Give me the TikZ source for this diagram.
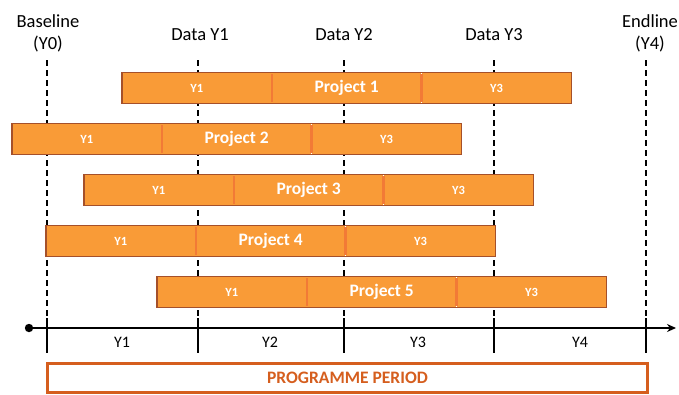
\documentclass[tikz,border=0pt]{standalone}
\usepackage{fontspec}
\setmainfont{Carlito}
\usetikzlibrary{arrows.meta}
\definecolor{barfill}{HTML}{F99B37}
\definecolor{barborder}{HTML}{A5502A}
\definecolor{divcol}{HTML}{F27A36}
\definecolor{progcol}{HTML}{D55E1E}
\tikzset{
  seg/.style={minimum width=149.4pt, minimum height=30pt, inner sep=0pt, fill=barfill, text=white, font=\fontsize{12.5}{14}\selectfont\bfseries},
  segmid/.style={seg, font=\fontsize{17.5}{19}\selectfont\bfseries},
  barline/.style={draw=barborder, line width=1.2pt},
  divline/.style={draw=divcol, line width=2.5pt},
  dashline/.style={line width=2.2pt, dash pattern=on 6pt off 4pt},
  tick/.style={line width=2.2pt},
  toplabel/.style={font=\fontsize{18.5}{22}\selectfont, align=center, inner sep=1pt},
  axislabel/.style={font=\fontsize{16}{18}\selectfont, inner sep=1pt},
}
\begin{document}
\begin{tikzpicture}[x=1pt,y=-1pt]
\useasboundingbox (0,0) rectangle (679,394);
% top labels
\node[toplabel] (lb0) at (48,33) {Baseline\\(Y0)};
\node[toplabel] (lb1) at (200,35) {Data Y1};
\node[toplabel] (lb2) at (344,35) {Data Y2};
\node[toplabel] (lb3) at (494,35) {Data Y3};
\node[toplabel] (lb4) at (650,33) {Endline\\(Y4)};
% dashed guide lines
\foreach \i/\x in {0/47,1/198,2/344,3/494,4/646}{
  \coordinate (t\i) at (\x,60);
  \coordinate (m\i) at (\x,318);
  \coordinate (b\i) at (\x,353);
  \draw[dashline] (t\i) -- (m\i);
  \draw[tick] (m\i) -- (b\i);
}
% bars
\foreach \p/\x/\y in {1/122/88,2/12/139,3/84/190,4/46/241,5/157/292}{
  \node[seg,anchor=west] (p\p a) at (\x,\y) {Y1};
  \node[segmid,anchor=west] (p\p b) at (p\p a.east) {Project \p};
  \node[seg,anchor=west] (p\p c) at (p\p b.east) {Y3};
  \draw[divline] ([yshift=-1.5pt]p\p a.north east) -- ([yshift=1.5pt]p\p a.south east);
  \draw[divline] ([yshift=-1.5pt]p\p b.north east) -- ([yshift=1.5pt]p\p b.south east);
  \draw[barline] (p\p a.north west) rectangle (p\p c.south east);
}
% axis
\coordinate (ax0) at (29,328);
\coordinate (ax1) at (676,328);
\draw[line width=1.6pt, -{Stealth[length=9pt,width=8pt]}] (ax0) -- (ax1);
\fill (ax0) circle (4.2pt);
\node[axislabel] (y1) at (122,342) {Y1};
\node[axislabel] (y2) at (270,342) {Y2};
\node[axislabel] (y3) at (418,342) {Y3};
\node[axislabel] (y4) at (580,342) {Y4};
% programme period
\node[draw=progcol, line width=3pt, minimum width=600pt, minimum height=29pt, inner sep=0pt, text=progcol, font=\fontsize{17.5}{19}\selectfont\bfseries] (prog) at (347.5,378) {PROGRAMME PERIOD};
\end{tikzpicture}
\end{document}
